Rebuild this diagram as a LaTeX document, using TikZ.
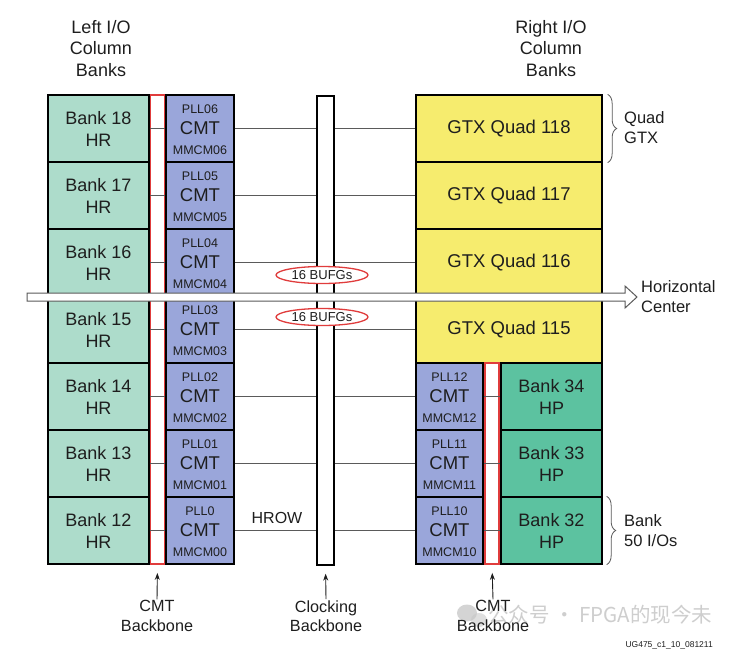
\documentclass[tikz,border=0pt]{standalone}
\usepackage{fontspec}
\setmainfont{Liberation Sans}
\newfontfamily\cjk{Noto Sans CJK SC}
\usetikzlibrary{shapes.geometric,decorations.pathreplacing,arrows.meta}
\definecolor{hrgreen}{HTML}{ADDCCB}
\definecolor{hpgreen}{HTML}{5CC2A0}
\definecolor{cmtblue}{HTML}{9AA6DA}
\definecolor{gtxyellow}{HTML}{F6EC6E}
\definecolor{bbred}{HTML}{E03C3C}
\definecolor{linegray}{HTML}{5A5A5A}
\definecolor{txt}{HTML}{1E1E1E}
\tikzset{
  box/.style={draw=black, line width=1.3pt, inner sep=0pt, align=center, text=txt},
  hrbank/.style={box, fill=hrgreen, minimum width=101pt, minimum height=67pt, font=\fontsize{18}{22}\selectfont},
  hpbank/.style={box, fill=hpgreen, minimum width=101pt, minimum height=67pt, font=\fontsize{18}{22}\selectfont},
  cmtbox/.style={box, fill=cmtblue, minimum width=68pt, minimum height=67pt, font=\fontsize{18.5}{22}\selectfont},
  rcmtbox/.style={cmtbox, minimum width=67pt},
  gtxbox/.style={box, fill=gtxyellow, minimum width=186pt, minimum height=67pt, font=\fontsize{18.5}{22}\selectfont},
  smalltxt/.style={inner sep=0pt, text=txt, font=\fontsize{12.5}{14}\selectfont},
  redbb/.style={draw=bbred, fill=white, line width=1.8pt, inner sep=0pt, minimum width=14pt},
  clkbb/.style={draw=black, fill=white, line width=1.3pt, inner sep=0pt, minimum width=17pt, minimum height=469pt},
  rowline/.style={draw=linegray, line width=0.9pt},
  hcarrow/.style={draw=linegray, fill=white, line width=1pt},
  bufg/.style={ellipse, draw=bbred, fill=white, line width=1.3pt, inner sep=0pt, minimum width=92pt, minimum height=17pt, text=txt, font=\fontsize{13}{15}\selectfont},
  lbl/.style={inner sep=0pt, text=txt, font=\fontsize{16.5}{20}\selectfont},
  header/.style={inner sep=0pt, text=txt, align=center, font=\fontsize{18}{21.5}\selectfont},
  bottomlbl/.style={inner sep=1pt, text=txt, align=center, font=\fontsize{16.2}{19.5}\selectfont},
  uparrow/.style={draw=txt, line width=0.9pt, -{Stealth[length=7pt,width=5pt]}, shorten >=8pt},
  bracestyle/.style={draw=linegray, line width=0.8pt, decorate, decoration={brace, amplitude=9pt}},
}
\begin{document}
\begin{tikzpicture}[x=1pt,y=-1pt]
\useasboundingbox (0,0) rectangle (733,659);
\fill[white] (0,0) rectangle (733,659);

% headers
\node[header] (hl) at (101,48.5) {Left I/O\\Column\\Banks};
\node[header] (hr) at (551,48.5) {Right I/O\\Column\\Banks};

% left column
\foreach \i/\b/\pl/\mm in {0/18/PLL06/MMCM06, 1/17/PLL05/MMCM05, 2/16/PLL04/MMCM04, 3/15/PLL03/MMCM03, 4/14/PLL02/MMCM02, 5/13/PLL01/MMCM01, 6/12/PLL0/MMCM00}{
  \pgfmathsetmacro{\yy}{128.5+67*\i}
  \node[hrbank] (Lb\b) at (98.5,\yy) {Bank \b\\HR};
  \node[cmtbox] (Lc\b) at (200,\yy) {CMT};
  \node[smalltxt] at ([yshift=19.5pt]Lc\b.center) {\pl};
  \node[smalltxt] at ([yshift=-21.5pt]Lc\b.center) {\mm};
}
\node[redbb, minimum height=469pt] (lbb) at (157.5,329.5) {};

% clocking backbone
\node[clkbb] (clk) at (325.5,330.5) {};

% right column: GTX quads
\foreach \i/\q in {0/118, 1/117, 2/116, 3/115}{
  \pgfmathsetmacro{\yy}{128.5+67*\i}
  \node[gtxbox] (G\q) at (509,\yy) {GTX Quad \q};
}
% right column: CMT + HP banks
\foreach \i/\b/\pl/\mm in {4/34/PLL12/MMCM12, 5/33/PLL11/MMCM11, 6/32/PLL10/MMCM10}{
  \pgfmathsetmacro{\yy}{128.5+67*\i}
  \node[rcmtbox] (Rc\b) at (449.5,\yy) {CMT};
  \node[smalltxt] at ([yshift=19.5pt]Rc\b.center) {\pl};
  \node[smalltxt] at ([yshift=-21.5pt]Rc\b.center) {\mm};
  \node[hpbank] (Hb\b) at (551.5,\yy) {Bank \b\\HP};
}
\node[redbb, minimum height=201pt] (rbb) at (492,463.5) {};

% row connectors
\foreach \b in {18,17,16,15,14,13,12}{
  \draw[rowline] (lbb.west |- Lc\b) -- (lbb.east |- Lc\b);
  \draw[rowline] (Lc\b.east) -- (clk.west |- Lc\b);
}
\foreach \q in {118,117,116,115}{
  \draw[rowline] (clk.east |- G\q) -- (G\q.west);
}
\foreach \b in {34,33,32}{
  \draw[rowline] (clk.east |- Rc\b) -- (Rc\b.west);
  \draw[rowline] (rbb.west |- Rc\b) -- (rbb.east |- Rc\b);
}

% horizontal center arrow
\draw[hcarrow] (27,293) -- (625,293) -- (625,286) -- (637,297) -- (625,308) -- (625,301) -- (27,301) -- cycle;
\node[lbl, anchor=west, align=left] (hc) at (641,297) {Horizontal\\Center};

% BUFG ellipses
\node[bufg] (bufA) at (322,275) {16 BUFGs};
\node[bufg] (bufB) at (322,317) {16 BUFGs};

% HROW
\node[lbl, font=\fontsize{16}{19}\selectfont] (hrow) at (277,518) {HROW};

% braces
\draw[bracestyle] ([xshift=5pt]G118.north east) -- ([xshift=5pt]G118.south east);
\node[lbl, anchor=west, align=left] (qg) at (624,128) {Quad\\GTX};
\draw[bracestyle] ([xshift=4pt]Hb32.north east) -- ([xshift=4pt]Hb32.south east);
\node[lbl, anchor=west, align=left] (b50) at (624,531) {Bank\\50 I/Os};

% watermark
\begin{scope}[opacity=0.55]
  \fill[gray!60] (467,613) ellipse (10pt and 8.5pt);
  \fill[gray!45] (479,620) ellipse (8pt and 7pt);
  \node[inner sep=0pt, text=gray!70, font=\cjk\fontsize{20.5}{24}\selectfont] (wm) at (600,615) {公众号 · FPGA的现今未};
\end{scope}

% bottom labels and arrows
\node[bottomlbl] (lblA) at (157,616) {CMT\\Backbone};
\node[bottomlbl] (lblB) at (326,616) {Clocking\\Backbone};
\node[bottomlbl] (lblC) at (493,616) {CMT\\Backbone};
\draw[uparrow] (lblA.north) -- (lbb.south);
\draw[uparrow] (lblB.north) -- (clk.south);
\draw[uparrow] (lblC.north) -- (rbb.south);

\node[inner sep=0pt, anchor=east, text=txt, font=\fontsize{8.5}{10}\selectfont] (ug) at (713,645) {UG475\_c1\_10\_081211};
\end{tikzpicture}
\end{document}
